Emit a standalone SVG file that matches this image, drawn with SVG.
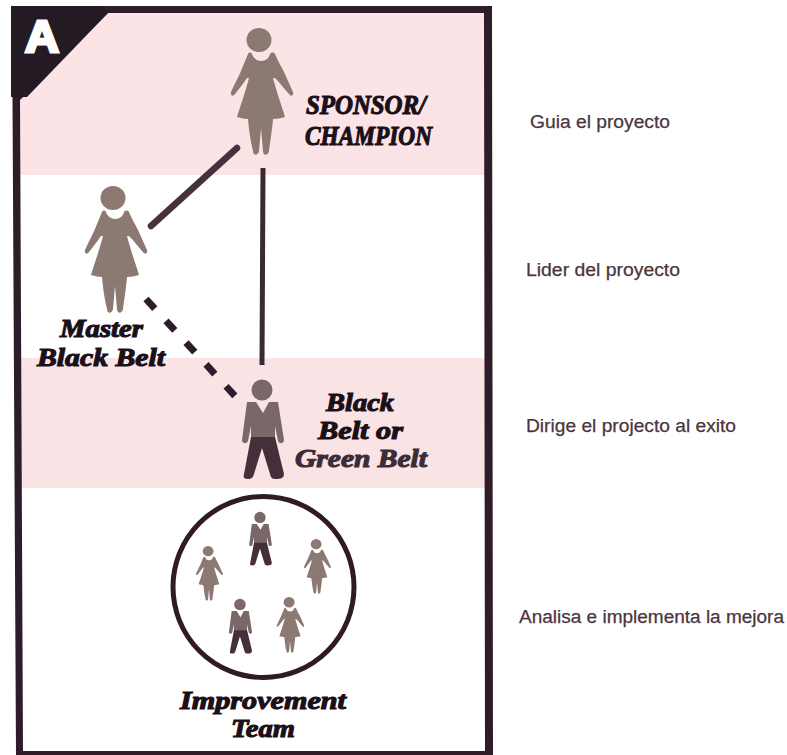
<svg xmlns="http://www.w3.org/2000/svg" width="787" height="755" viewBox="0 0 787 755">
<style>
.disp{font-family:"Liberation Serif",serif;font-weight:bold;font-style:italic;fill:#1b0f18;stroke:#1b0f18;stroke-width:1.1;paint-order:stroke}
.note{font-family:"Liberation Sans",Arial,sans-serif;font-size:18px;fill:#4a3540;stroke:#4a3540;stroke-width:.25}
.f{fill:#8b7972}
.j{fill:#7a6868}
.p{fill:#45303a}
.ln{fill:none;stroke:#46323d;stroke-linecap:round}
</style>
<defs>
<g id="woman">
<ellipse cx="-2" cy="12" rx="12.5" ry="12"/>
<path d="M-13 26C-12 24-10 24-9 26C-8 30-4 33 0 33C5 33 8 30 9 26C10 24 13 24 14 26C17 33 20 38 23 44C26 51 29 57 32 64C33 67 30 69 28 66C25 63 20 56 14 50L12 50C15 62 20 76 24 89C20 90 16 91 12 91C11 103 9 115 8 123C7 128 2 128 2 123L0 100L-2 123C-3 128-8 128-8 123C-10 115-12 103-13 91C-16 91-20 90-24 89C-20 76-15 62-12 50L-14 50C-18 56-23 62-26 66C-28 69-31 67-30 64C-27 57-23 50-20 43C-18 38-16 33-13 26Z"/>
</g>
<g id="man">
<circle class="j" cx="-1" cy="10" r="10.5"/>
<path class="j" d="M-16 22L-7 22L0 33L6 22L15 22L21 60C21 64 16 64 15 61L12 46L12 58L-12 58L-12 46L-15 61C-16 64-21 64-21 60Z"/>
<path class="p" d="M-12 57L12 57L21 94C21 98 18 99 13 99C9 99 8 98 7 94L-1 68L-9 94C-10 98-12 99-15 99C-19 99-20 98-19 94Z"/>
</g>
</defs>
<rect width="787" height="755" fill="#ffffff"/>
<g id="bands">
<rect x="18" y="13" width="468" height="162" fill="#fbe3e6"/>
<rect x="18" y="358" width="470" height="130" fill="#f9e3e5"/>
</g>
<g id="frame">
<path d="M12 6L492 6L493 755L16 755ZM20 100L23 751L485 751L484 13L108 13Z" fill="#2e1d28" fill-rule="evenodd"/>
<path d="M11 6L102 6L108 13L27 97L11 97Z" fill="#231a24"/>
<text x="25" y="52" font-family="Liberation Sans,Arial,sans-serif" font-weight="bold" font-size="44" fill="#fff" stroke="#fff" stroke-width="3" textLength="34" lengthAdjust="spacingAndGlyphs">A</text>
</g>
<g id="connectors">
<line class="ln" x1="237" y1="148" x2="151" y2="226" stroke-width="6.5"/>
<line x1="263" y1="168" x2="262" y2="365" stroke="#3a2a33" stroke-width="5"/>
<line x1="146" y1="299" x2="235" y2="396" stroke="#2e1d2c" stroke-width="7" stroke-dasharray="13 16.6"/>
</g>
<g id="sponsor">
<use href="#woman" transform="translate(261,28)" class="f"/>
<text class="disp" font-size="27" x="306" y="114" textLength="120" lengthAdjust="spacingAndGlyphs">SPONSOR/</text>
<text class="disp" font-size="27" x="305" y="145" textLength="127" lengthAdjust="spacingAndGlyphs">CHAMPION</text>
</g>
<g id="master-black-belt">
<use href="#woman" transform="translate(115,186)" class="f"/>
<text class="disp" font-size="26" x="60" y="337" textLength="83" lengthAdjust="spacingAndGlyphs">Master</text>
<text class="disp" font-size="26" x="37" y="366" textLength="128" lengthAdjust="spacingAndGlyphs">Black Belt</text>
</g>
<g id="black-belt">
<use href="#man" transform="translate(263,380)"/>
<text class="disp" font-size="26" x="326" y="411" textLength="68" lengthAdjust="spacingAndGlyphs">Black</text>
<text class="disp" font-size="26" x="318" y="439" textLength="85" lengthAdjust="spacingAndGlyphs">Belt or</text>
<text class="disp" font-size="26" x="295" y="467" textLength="132" lengthAdjust="spacingAndGlyphs" style="fill:#3d2c36;stroke:#3d2c36">Green Belt</text>
</g>
<g id="improvement-team">
<circle cx="263.5" cy="587" r="90.5" fill="#fff" stroke="#301a25" stroke-width="5"/>
<use href="#man" transform="translate(260.5,512) scale(.54)"/>
<use href="#man" transform="translate(240.5,599) scale(.55)"/>
<use href="#woman" transform="translate(209,546) scale(.43)" class="f"/>
<use href="#woman" transform="translate(317,539) scale(.43)" class="f"/>
<use href="#woman" transform="translate(290,597) scale(.44)" class="f"/>
<text class="disp" font-size="26" x="180" y="709" textLength="166" lengthAdjust="spacingAndGlyphs">Improvement</text>
<text class="disp" font-size="26" x="231" y="737" textLength="64" lengthAdjust="spacingAndGlyphs">Team</text>
</g>
<g id="notes">
<text class="note" x="530" y="128" textLength="140" lengthAdjust="spacingAndGlyphs">Guia el proyecto</text>
<text class="note" x="526" y="276" textLength="154" lengthAdjust="spacingAndGlyphs">Lider del proyecto</text>
<text class="note" x="526" y="432" textLength="210" lengthAdjust="spacingAndGlyphs">Dirige el projecto al exito</text>
<text class="note" x="519" y="623" textLength="265" lengthAdjust="spacingAndGlyphs">Analisa e implementa la mejora</text>
</g>
</svg>
